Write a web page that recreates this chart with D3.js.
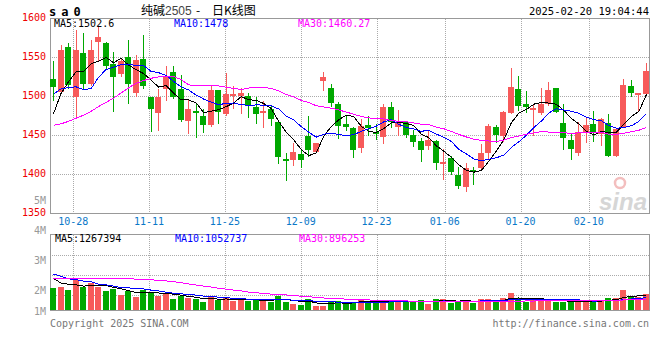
<!DOCTYPE html>
<html>
<head>
<meta charset="utf-8">
<script src="https://cdn.jsdelivr.net/npm/d3@7"></script>
<style>
  body { margin: 0; background: #fff; }
  svg { display: block; }
  text { font-family: 'DejaVu Sans Mono', monospace; font-size: 10px; }
</style>
</head>
<body>
<svg width="660" height="360"></svg>
<script>
// trading days shown, 10-23 .. 02-20
const days = ('10-23 10-24 10-25 10-28 10-29 10-30 10-31 ' +
  '11-01 11-04 11-05 11-06 11-07 11-08 11-11 11-12 11-13 11-14 11-15 11-18 11-19 11-20 11-21 11-22 11-25 11-26 11-27 11-28 11-29 ' +
  '12-02 12-03 12-04 12-05 12-06 12-09 12-10 12-11 12-12 12-13 12-16 12-17 12-18 12-19 12-20 12-23 12-24 12-25 12-26 12-27 12-30 12-31 ' +
  '01-02 01-03 01-06 01-07 01-08 01-09 01-10 01-13 01-14 01-15 01-16 01-17 01-20 01-21 01-22 01-23 01-24 01-27 ' +
  '02-05 02-06 02-07 02-10 02-11 02-12 02-13 02-14 02-17 02-18 02-19 02-20').split(' ');

const open = [1522,1506,1563,1500,1556,1516,1570,1568,1542,1529, 1551,1504,1548,1500,1479,1510,1532,1509,1469,1481,
  1475,1464,1508,1477,1501,1501,1501,1486,1481,1484, 1467,1420,1418,1426,1450,1429,1520,1511,1491,1465,
  1460,1434,1463,1455,1448,1487,1461,1467,1451,1443, 1437,1443,1414,1421,1400,1384,1406,1408,1428,1461,
  1450,1479,1509,1490,1483,1479,1490,1511,1466,1444, 1427,1455,1465,1452,1466,1424,1461,1514,1502,1503];
const high = [1546,1566,1568,1585,1581,1573,1589,1570,1557,1548, 1572,1553,1579,1500,1509,1539,1539,1527,1497,1490,
  1484,1514,1508,1530,1513,1511,1504,1499,1494,1488, 1468,1428,1441,1431,1475,1441,1531,1516,1493,1475,
  1461,1471,1475,1465,1491,1493,1483,1469,1457,1447, 1457,1444,1433,1424,1410,1415,1409,1439,1465,1463,
  1482,1537,1526,1507,1491,1511,1518,1511,1490,1452, 1467,1473,1481,1473,1477,1460,1522,1521,1505,1543];
const low = [1494,1504,1510,1473,1508,1514,1545,1535,1480,1525, 1491,1500,1510,1455,1456,1494,1497,1467,1452,1447,
  1453,1461,1465,1475,1484,1478,1473,1465,1460,1462, 1414,1392,1411,1408,1422,1428,1507,1487,1445,1456,
  1421,1427,1450,1444,1439,1460,1450,1447,1435,1416, 1432,1406,1393,1400,1381,1378,1386,1405,1418,1441,
  1442,1478,1481,1479,1450,1476,1488,1479,1431,1419, 1424,1441,1442,1437,1423,1423,1460,1499,1482,1501];
const close = [1512,1559,1515,1560,1516,1560,1576,1539,1525,1545, 1516,1547,1514,1484,1499,1526,1499,1470,1484,1480,
  1464,1508,1480,1503,1503,1505,1488,1477,1482,1471, 1423,1418,1429,1419,1432,1440,1525,1492,1462,1461,
  1432,1462,1460,1454,1487,1467,1467,1451,1442,1432, 1444,1415,1416,1403,1385,1408,1403,1427,1462,1451,
  1480,1512,1488,1486,1485,1491,1508,1480,1447,1433, 1455,1463,1455,1471,1424,1458,1515,1504,1504,1533];
const volume = [1865000,1946000,1703000,2486000,1919000,2270000,1892000,1622000,1730000,1297000,
  1595000,1135000,1649000,1540000,1216000,1324000,973000,1189000,1027000,919000,
  730000,1108000,838000,1108000,757000,838000,784000,865000,946000,730000,
  1162000,730000,540000,486000,946000,378000,405000,700000,784000,540000,
  730000,838000,676000,730000,838000,784000,676000,676000,784000,838000,
  540000,946000,946000,649000,757000,784000,595000,946000,946000,676000,
  1027000,1432000,1027000,676000,865000,946000,784000,676000,676000,676000,
  865000,676000,865000,784000,1027000,1027000,1676000,1135000,1135000,1351000];

// sessions before the window, only feed the moving averages
const earlierClose = [1500,1420,1440,1400,1410,1395,1375,1365,1345,1320, 1370,1410,1395,1445,1500,1515,1580,1690,1515,1470,
  1490,1500,1550,1550,1550,1430,1440,1495,1513];
const earlierVolume = [1900000,1800000,1900000,2000000,2100000,2000000,1800000,1900000,1900000,2000000,
  2100000,2300000,2400000,2600000,2800000,3000000,3400000,4200000,3600000,3200000,
  3600000,3900000,3200000,3000000,2900000,3810000,2230000,2660000,2500000];

const tickDays = ['10-28', '11-11', '11-25', '12-09', '12-23', '01-06', '01-20', '02-10'];
const priceTicks = [1600, 1550, 1500, 1450, 1400, 1350];
const volTicks = [5e6, 4e6, 3e6, 2e6, 1e6];
const volTickLabels = ['5M', '4M', '3M', '2M', '1M'];
const priceLegend = ['MA5:1502.6', 'MA10:1478', 'MA30:1460.27'];
const volLegend = ['MA5:1267394', 'MA10:1052737', 'MA30:896253'];

const red = '#f75a5a', green = '#00a800';
const maColors = ['#000000', '#0000ff', '#ff00ff'];

const svg = d3.select('svg');
const left = 50, right = 650;
const n = days.length;

const x = d3.scaleLinear().domain([0, n - 1]).range([left + 3, right - 4]);
const gridX = d3.scaleLinear().domain([0, n - 1]).range([left + 0.5, right - 0.5]);
const y = d3.scaleLinear().domain([1350, 1600]).range([213.5, 18.5]);
const yVol = d3.scaleLinear().domain([0, 6.2e6]).range([310.5, 234.5]);
const volLabelY = d3.scaleLinear().domain([2e6, 5e6]).range([294.3, 204]);
const volGrid = d3.scaleLinear().domain([0, 4]).range([235.5, 315.5]);

const color = i => close[i] >= open[i] ? red : green;

// grid
const grid = svg.append('g')
  .attr('stroke', '#aaa')
  .attr('stroke-dasharray', '1,1')
  .attr('shape-rendering', 'crispEdges');

grid.selectAll('line.h').data(priceTicks.slice(1, -1)).join('line')
  .attr('x1', left).attr('x2', right)
  .attr('y1', d => y(d)).attr('y2', d => y(d));

grid.selectAll('line.vh').data([1, 2, 3]).join('line')
  .attr('x1', left).attr('x2', right)
  .attr('y1', d => volGrid(d)).attr('y2', d => volGrid(d));

const tickIdx = tickDays.map(d => days.indexOf(d));
grid.selectAll('line.v').data(tickIdx).join('line')
  .attr('x1', d => Math.round(gridX(d)) + 0.5).attr('x2', d => Math.round(gridX(d)) + 0.5)
  .attr('y1', 18.5).attr('y2', 213);
grid.selectAll('line.vv').data(tickIdx).join('line')
  .attr('x1', d => Math.round(gridX(d)) + 0.5).attr('x2', d => Math.round(gridX(d)) + 0.5)
  .attr('y1', 234.5).attr('y2', 310);

// frames
const frame = svg.append('g')
  .attr('fill', 'none')
  .attr('stroke', '#999')
  .attr('shape-rendering', 'crispEdges');
frame.append('rect').attr('x', left + 0.5).attr('y', 18.5).attr('width', right - left - 1).attr('height', 195);
frame.append('rect').attr('x', left + 0.5).attr('y', 234.5).attr('width', right - left - 1).attr('height', 76);

// sina watermark
const mark = svg.append('g').attr('opacity', 0.9);
mark.append('text')
  .attr('x', 647).attr('y', 210)
  .attr('text-anchor', 'end')
  .style('font-family', 'Liberation Sans, Arial, sans-serif')
  .style('font-size', '24px').style('font-weight', 'bold').style('font-style', 'italic')
  .attr('fill', '#d2d2d2')
  .text('sina');
mark.append('circle').attr('cx', 620).attr('cy', 183).attr('r', 5)
  .attr('fill', 'none').attr('stroke', '#f2b8b8').attr('stroke-width', 2.5);

// candles
const candles = svg.append('g').attr('shape-rendering', 'crispEdges');
candles.selectAll('rect.wick').data(d3.range(n)).join('rect')
  .attr('x', i => Math.round(x(i)))
  .attr('y', i => y(high[i]))
  .attr('width', 1)
  .attr('height', i => Math.max(1, y(low[i]) - y(high[i])))
  .attr('fill', color);
candles.selectAll('rect.body').data(d3.range(n)).join('rect')
  .attr('x', i => Math.round(x(i)) - 3)
  .attr('y', i => y(Math.max(open[i], close[i])))
  .attr('width', 6)
  .attr('height', i => Math.max(2, Math.abs(y(open[i]) - y(close[i]))))
  .attr('fill', color);

// volume bars
svg.append('g').attr('shape-rendering', 'crispEdges')
  .selectAll('rect').data(d3.range(n)).join('rect')
  .attr('x', i => Math.round(x(i)) - 3)
  .attr('y', i => yVol(volume[i]))
  .attr('width', 6)
  .attr('height', i => 310 - yVol(volume[i]))
  .attr('fill', color);

// moving averages
const movingAvg = (series, lead, len) =>
  d3.range(n).map(i => d3.mean(series.slice(lead + i - len + 1, lead + i + 1)));

const allClose = earlierClose.concat(close);
const allVolume = earlierVolume.concat(volume);
const lead = earlierClose.length;

const priceLine = d3.line().x((d, i) => x(i) + 0.5).y(d => y(d));
const volLine = d3.line().x((d, i) => x(i) + 0.5).y(d => yVol(d));

[5, 10, 30].forEach((len, k) => {
  svg.append('path')
    .attr('d', priceLine(movingAvg(allClose, lead, len)))
    .attr('fill', 'none').attr('stroke', maColors[k]).attr('stroke-width', 1)
    .attr('shape-rendering', 'crispEdges');
  svg.append('path')
    .attr('d', volLine(movingAvg(allVolume, lead, len)))
    .attr('fill', 'none').attr('stroke', maColors[k]).attr('stroke-width', 1)
    .attr('shape-rendering', 'crispEdges');
});

// axis labels
svg.append('g').selectAll('text').data(priceTicks).join('text')
  .attr('x', 46).attr('y', d => y(d) + 2.5)
  .attr('text-anchor', 'end')
  .attr('fill', '#ee0000')
  .text(d => d);

svg.append('g').selectAll('text').data(volTicks).join('text')
  .attr('x', 46).attr('y', d => Math.min(315, volLabelY(d)))
  .attr('text-anchor', 'end')
  .attr('fill', '#999')
  .text((d, i) => volTickLabels[i]);

svg.append('g').selectAll('text').data(tickIdx).join('text')
  .attr('x', d => gridX(d)).attr('y', 225)
  .attr('text-anchor', 'middle')
  .attr('fill', '#0a78c8')
  .text((d, i) => tickDays[i]);

// legends
const legendX = [54, 174, 298];
svg.append('g').selectAll('text').data(priceLegend).join('text')
  .attr('x', (d, i) => legendX[i]).attr('y', 27)
  .attr('fill', (d, i) => maColors[i])
  .text(d => d);
svg.append('g').selectAll('text').data(volLegend).join('text')
  .attr('x', (d, i) => legendX[i] + 1).attr('y', 242)
  .attr('fill', (d, i) => maColors[i])
  .text(d => d);

// header
svg.append('text')
  .attr('x', 49).attr('y', 15.5)
  .style('font-size', '12px').style('font-weight', 'bold')
  .attr('letter-spacing', 5)
  .text('sa0');

const title = svg.append('text')
  .attr('y', 14.5)
  .style('font-family', "'Noto Sans CJK SC', sans-serif")
  .style('font-size', '12px');
title.append('tspan').attr('x', 141).text('纯碱');
title.append('tspan').attr('fill', '#444')
  .style('font-family', "'Liberation Sans', Arial, sans-serif").text('2505');
title.append('tspan').attr('x', 196).text('-');
title.append('tspan').attr('x', 212).text('日K线图');

svg.append('text')
  .attr('x', 649).attr('y', 15)
  .attr('text-anchor', 'end')
  .style('font-size', '10.5px')
  .text('2025-02-20 19:04:44');

// footer
svg.append('text')
  .attr('x', 50).attr('y', 327)
  .attr('fill', '#777')
  .text('Copyright 2025 SINA.COM');
svg.append('text')
  .attr('x', 649).attr('y', 327)
  .attr('text-anchor', 'end')
  .attr('fill', '#777')
  .text('http://finance.sina.com.cn');
</script>
</body>
</html>
